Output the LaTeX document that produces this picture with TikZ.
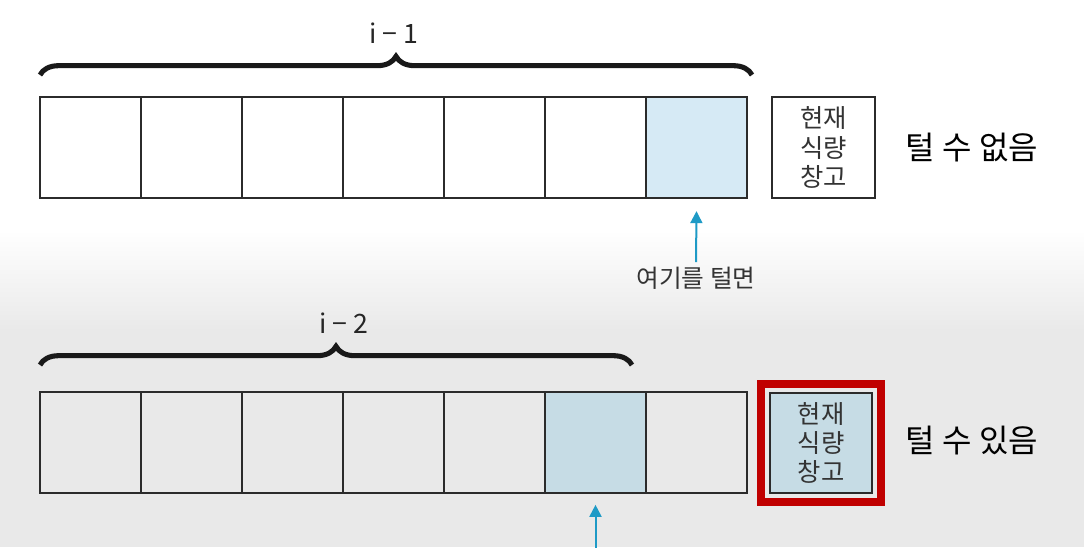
\documentclass[tikz,border=0pt]{standalone}
\usepackage{fontspec}
\setmainfont{Noto Sans CJK KR}
\usetikzlibrary{positioning, arrows.meta, decorations.pathreplacing, fit}
\definecolor{cellline}{HTML}{2B2B2B}
\definecolor{pick}{HTML}{D6EAF5}
\definecolor{pickdim}{HTML}{C6DCE5}
\definecolor{arrowblue}{HTML}{1E9AC6}
\definecolor{redframe}{HTML}{C00000}
\definecolor{bggray}{HTML}{E9E9E9}

\begin{document}
\begin{tikzpicture}[x=0.75pt, y=-0.75pt,
    cell/.style={draw=cellline, line width=1.7pt, minimum width=75.75pt, minimum height=75.5pt, outer sep=0pt, inner sep=0pt},
    store/.style={cell, minimum width=77pt, align=center, text=black!80, font=\fontsize{19}{22}\selectfont},
    brc/.style={decorate, decoration={brace, amplitude=14pt}, line width=3.8pt, draw=black!90},
    arr/.style={-{Triangle[width=9pt, length=9pt]}, draw=arrowblue, line width=1.5pt},
    verdict/.style={font=\fontsize{24}{28}\selectfont},
    hint/.style={font=\fontsize{18.5}{22}\selectfont, text=black!80},
    count/.style={font=\fontsize{20}{24}\selectfont, text=black!85, anchor=base}]

    \useasboundingbox (0,0) rectangle (1084,547);
    \fill[white] (0,0) rectangle (1084,231);
    \shade[top color=white, bottom color=bggray] (0,230) rectangle (1084,331);
    \fill[bggray] (0,330) rectangle (1084,547);

    \node[cell] (a1) at (90.5,147.5) {};
    \node[cell, right=0pt of a1] (a2) {};
    \node[cell, right=0pt of a2] (a3) {};
    \node[cell, right=0pt of a3] (a4) {};
    \node[cell, right=0pt of a4] (a5) {};
    \node[cell, right=0pt of a5] (a6) {};
    \node[cell, right=0pt of a6, fill=pick] (a7) {};
    \node[store] (st1) at (823.5,147.5) {현재\\식량\\창고};
    \node[verdict] (v1) at (972,148) {털 수 없음};

    \draw[brc] (40,75) -- (752,75);
    \node[count] (lab1) at (394,43) {i − 1};

    \node[hint] (here) at (696,278) {여기를 털면};
    \draw[arr] (here.north) -- ([yshift=-10pt]a7.south);

    \node[cell] (b1) at (90.5,442.5) {};
    \node[cell, right=0pt of b1] (b2) {};
    \node[cell, right=0pt of b2] (b3) {};
    \node[cell, right=0pt of b3] (b4) {};
    \node[cell, right=0pt of b4] (b5) {};
    \node[cell, right=0pt of b5, fill=pickdim] (b6) {};
    \node[cell, right=0pt of b6] (b7) {};
    \node[store, fill=pickdim] (st2) at (821,443) {현재\\식량\\창고};
    \node[draw=redframe, line width=6pt, inner sep=6.5pt, fit=(st2)] (pickframe) {};
    \node[verdict] (v2) at (972,441) {털 수 있음};

    \draw[brc] (40,365) -- (632,365);
    \node[count] (lab2) at (344,333) {i − 2};

    \coordinate (edge) at (595.5,550);
    \draw[arr] (edge) -- ([yshift=-9pt]b6.south);
\end{tikzpicture}
\end{document}
